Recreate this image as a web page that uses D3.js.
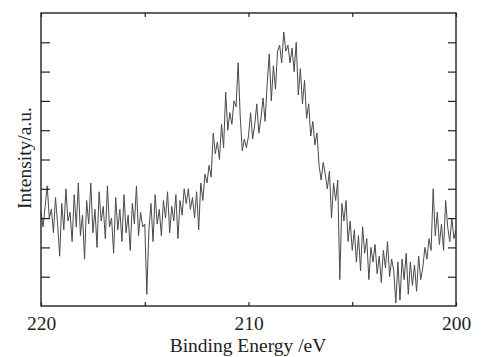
<!DOCTYPE html>
<html>
<head>
<meta charset="utf-8">
<script src="https://cdn.jsdelivr.net/npm/d3@7"></script>
<style>
  html, body { margin: 0; padding: 0; background: #ffffff; }
  svg { display: block; }
</style>
</head>
<body>
<svg id="chart" width="481" height="357"></svg>
<script>
// ---- data ----
const energyStart = 220;      // eV, first sample
const energyStep = 0.1;       // eV, spacing between samples (decreasing)
const intensity = [
  3.2, 2.7, 3.4, 4.1, 3.0, 3.3, 2.5, 3.7, 2.8, 1.7,
  3.5, 2.6, 4.0, 2.9, 3.2, 2.2, 3.8, 2.7, 4.2, 2.4,
  3.1, 1.6, 3.6, 2.8, 4.2, 2.5, 3.3, 2.0, 3.9, 2.9,
  3.4, 2.3, 4.1, 2.7, 3.0, 1.8, 3.7, 2.6, 3.3, 2.2,
  3.8, 2.5, 3.1, 1.9, 3.5, 2.8, 4.1, 2.4, 3.2, 2.7,
  2.8, 0.4, 2.6, 3.5, 2.2, 3.8, 2.8, 3.3, 2.4, 3.6,
  3.0, 3.9, 2.5, 3.4, 2.9, 3.8, 2.3, 3.6, 3.1, 4.0,
  3.5, 4.0, 3.3, 3.7, 3.0, 3.9, 2.6, 4.2, 3.6, 4.5,
  4.2, 4.8, 4.4, 5.9, 5.2, 5.6, 5.0, 6.2, 5.4, 7.3,
  6.0, 6.6, 6.2, 7.0, 6.8, 8.3, 6.5, 5.3, 5.7, 5.4,
  5.8, 6.6, 5.7, 6.2, 6.9, 5.9, 6.4, 7.1, 6.3, 7.6,
  8.6, 7.0, 8.2, 7.4, 8.7, 8.9, 8.3, 9.35, 8.7, 8.9,
  8.3, 8.8, 8.0, 9.0, 7.2, 8.1, 6.9, 7.7, 6.4, 6.9,
  5.8, 6.3, 5.5, 5.9, 4.8, 4.3, 4.9, 4.5, 4.0, 4.6,
  3.0, 4.2, 3.6, 4.3, 0.9, 3.5, 2.9, 3.6, 2.2, 2.9,
  1.9, 2.6, 1.5, 2.4, 1.2, 2.7, 1.8, 2.3, 0.9, 2.0,
  1.5, 2.1, 1.1, 1.7, 0.8, 1.9, 1.3, 2.2, 1.0, 1.6,
  1.2, 0.1, 1.5, 0.2, 1.6, 0.9, 1.8, 0.4, 1.5, 0.7,
  1.4, 0.5, 1.7, 0.9, 1.3, 2.0, 1.6, 2.3, 1.9, 4.0,
  2.4, 3.2, 2.1, 2.8, 1.9, 3.6, 2.7, 2.2, 3.0, 2.3, 2.6
];
const xTickValues = [220, 215, 210, 205, 200];
const xTickLabels = [220, 210, 200];
const yTickValues = [1, 2, 3, 4, 5, 6, 7, 8, 9];
const xTitle = "Binding Energy /eV";
const yTitle = "Intensity/a.u.";

// ---- layout ----
const svg = d3.select("#chart");
const mLeft = 41, mRight = 456, mTop = 13, mBottom = 306;
const serif = "'Liberation Serif', 'Times New Roman', serif";

const x = d3.scaleLinear().domain([220, 200]).range([mLeft, mRight]);
const y = d3.scaleLinear().domain([0, 10]).range([mBottom, mTop]);

const points = intensity.map((v, i) => ({ e: energyStart - i * energyStep, v }));

// spectrum line
svg.append("path")
  .datum(points)
  .attr("fill", "none")
  .attr("stroke", "#4a4a4a")
  .attr("stroke-width", 1)
  .attr("stroke-linejoin", "round")
  .attr("d", d3.line().x(d => x(d.e)).y(d => y(d.v)));

// frame
svg.append("rect")
  .attr("x", mLeft).attr("y", mTop)
  .attr("width", mRight - mLeft).attr("height", mBottom - mTop)
  .attr("fill", "none").attr("stroke", "#222").attr("stroke-width", 1.4);

const tickStyle = g => g.select(".domain").remove();

// bottom axis (ticks inward, labels only at 220/210/200)
svg.append("g")
  .attr("transform", `translate(0,${mBottom})`)
  .call(d3.axisBottom(x).tickValues(xTickValues).tickSizeInner(-4).tickSizeOuter(0)
    .tickFormat(d => xTickLabels.includes(d) ? d : ""))
  .call(tickStyle)
  .call(g => g.selectAll("line").attr("stroke", "#222").attr("stroke-width", 1.2))
  .call(g => g.selectAll("text")
    .attr("y", 24).attr("dy", 0)
    .attr("font-family", serif)
    .attr("font-size", 19.5).attr("fill", "#222"));

// top axis
svg.append("g")
  .attr("transform", `translate(0,${mTop})`)
  .call(d3.axisTop(x).tickValues(xTickValues).tickSizeInner(-4).tickSizeOuter(0).tickFormat(""))
  .call(tickStyle)
  .call(g => g.selectAll("line").attr("stroke", "#222").attr("stroke-width", 1.2));

// left axis
svg.append("g")
  .attr("transform", `translate(${mLeft},0)`)
  .call(d3.axisLeft(y).tickValues(yTickValues).tickSizeInner(-9).tickSizeOuter(0).tickFormat(""))
  .call(tickStyle)
  .call(g => g.selectAll("line").attr("stroke", "#222").attr("stroke-width", 1.2));

// right axis
svg.append("g")
  .attr("transform", `translate(${mRight},0)`)
  .call(d3.axisRight(y).tickValues(yTickValues).tickSizeInner(-8).tickSizeOuter(0).tickFormat(""))
  .call(tickStyle)
  .call(g => g.selectAll("line").attr("stroke", "#222").attr("stroke-width", 1.2));

// titles
svg.append("text")
  .attr("x", 248).attr("y", 352)
  .attr("text-anchor", "middle")
  .attr("font-family", serif)
  .attr("font-size", 19.5).attr("fill", "#222")
  .text(xTitle);

svg.append("text")
  .attr("transform", "translate(31,158) rotate(-90)")
  .attr("text-anchor", "middle")
  .attr("font-family", serif)
  .attr("font-size", 19.5).attr("fill", "#222")
  .text(yTitle);
</script>
</body>
</html>
